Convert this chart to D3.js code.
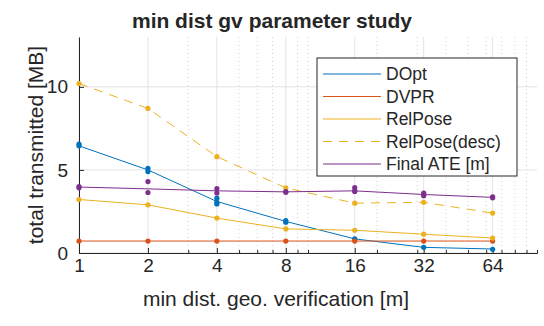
<!DOCTYPE html>
<html>
<head>
<meta charset="utf-8">
<script src="https://cdn.jsdelivr.net/npm/d3@7"></script>
<style>
  body { margin: 0; background: #fff; }
  svg text { font-family: "Liberation Sans", Arial, Helvetica, sans-serif; fill: #262626; }
  .axis path, .axis line { stroke: #262626; }
  .axis text { font-size: 19px; }
</style>
</head>
<body>
<div class="chart"></div>
<script>
// chart data
var xValues = [1, 2, 4, 8, 16, 32, 64];
var xTickLabels = ["1", "2", "4", "8", "16", "32", "64"];
var xMinorTicks = [3, 5, 6, 7, 9, 10, 20, 30, 40, 50, 60, 70, 80, 90];
var yTicks = [0, 5, 10];
var seriesNames = ["DOpt", "DVPR", "RelPose", "RelPose(desc)", "Final ATE [m]"];

var dOptLine = [6.45, 5.0, 3.1, 1.9, 0.85, 0.34, 0.24];
var dOptRuns = [[6.45, 6.55], [5.1, 4.9], [3.3, 3.05, 2.95], [1.95, 1.85], [0.85], [0.34], [0.22]];
var dvprLine = [0.72, 0.72, 0.72, 0.72, 0.72, 0.72, 0.72];
var dvprRuns = [[0.72], [0.72], [0.72], [0.72], [0.72], [0.72], [0.72]];
var relPoseLine = [3.22, 2.9, 2.1, 1.45, 1.37, 1.13, 0.9];
var relPoseRuns = [[3.22], [2.9], [2.1], [1.45], [1.37], [1.13], [0.9]];
var relPoseDescLine = [10.2, 8.7, 5.8, 3.92, 3.0, 3.05, 2.4];
var relPoseDescRuns = [[10.2], [8.7], [5.8], [3.92], [3.0], [3.05], [2.4]];
var ateLine = [3.97, 3.86, 3.74, 3.68, 3.74, 3.52, 3.35];
var ateRuns = [[4.0, 3.92], [4.3, 3.64], [3.88, 3.61], [3.7, 3.65], [3.94, 3.75, 3.7], [3.6, 3.5, 3.45], [3.38, 3.32]];

var series = [
  { name: seriesNames[0], line: dOptLine, runs: dOptRuns, color: "#0072BD", dash: null },
  { name: seriesNames[1], line: dvprLine, runs: dvprRuns, color: "#D95319", dash: null },
  { name: seriesNames[2], line: relPoseLine, runs: relPoseRuns, color: "#EDB120", dash: null },
  { name: seriesNames[3], line: relPoseDescLine, runs: relPoseDescRuns, color: "#EDB120", dash: "9,7" },
  { name: seriesNames[4], line: ateLine, runs: ateRuns, color: "#7E2F8E", dash: null }
];

var svgWidth = 544;
var svgHeight = 326;
var margin = { top: 37, right: 7, bottom: 73, left: 79 };
var width = svgWidth - margin.left - margin.right;
var height = svgHeight - margin.top - margin.bottom;

var svg = d3.select(".chart")
    .append("svg")
    .attr("width", svgWidth)
    .attr("height", svgHeight);

var chartGroup = svg.append("g")
    .attr("transform", `translate(${margin.left},${margin.top})`);

var xScale = d3.scaleLog().base(2)
    .domain([1, 100])
    .range([0, width]);

var yScale = d3.scaleLinear()
    .domain([0, 13])
    .range([height, 0]);

// grid lines
chartGroup.selectAll(".minor-grid")
    .data(xMinorTicks)
    .enter()
    .append("line")
    .attr("x1", d => xScale(d)).attr("x2", d => xScale(d))
    .attr("y1", 0).attr("y2", height)
    .attr("stroke", "#c8c8c8")
    .attr("stroke-width", 0.8)
    .attr("stroke-dasharray", "1,3");

chartGroup.selectAll(".major-grid")
    .data(xValues)
    .enter()
    .append("line")
    .attr("x1", d => xScale(d)).attr("x2", d => xScale(d))
    .attr("y1", 0).attr("y2", height)
    .attr("stroke", "#e3e3e3")
    .attr("stroke-width", 1);

chartGroup.selectAll(".y-grid")
    .data(yTicks)
    .enter()
    .append("line")
    .attr("x1", 0).attr("x2", width)
    .attr("y1", d => yScale(d)).attr("y2", d => yScale(d))
    .attr("stroke", "#e3e3e3")
    .attr("stroke-width", 1);

// axes
var bottomAxis = d3.axisBottom(xScale)
    .tickValues(xValues)
    .tickFormat((d, i) => xTickLabels[i])
    .tickSizeInner(-5)
    .tickSizeOuter(0)
    .tickPadding(6);

var minorAxis = d3.axisBottom(xScale)
    .tickValues(xMinorTicks.concat([100]))
    .tickFormat("")
    .tickSizeInner(-3)
    .tickSizeOuter(0);

var leftAxis = d3.axisLeft(yScale)
    .tickValues(yTicks)
    .tickSizeInner(-5)
    .tickSizeOuter(0)
    .tickPadding(11);

chartGroup.append("g")
    .attr("class", "axis")
    .attr("transform", `translate(0, ${height})`)
    .call(minorAxis);

chartGroup.append("g")
    .attr("class", "axis")
    .attr("transform", `translate(0, ${height})`)
    .call(bottomAxis);

chartGroup.append("g")
    .attr("class", "axis")
    .call(leftAxis);

// lines and run markers
var lineGen = d3.line()
    .x((d, i) => xScale(xValues[i]))
    .y(d => yScale(d));

series.forEach(function(s) {
  chartGroup.append("path")
    .datum(s.line)
    .attr("d", lineGen)
    .attr("fill", "none")
    .attr("stroke", s.color)
    .attr("stroke-width", 1)
    .attr("stroke-dasharray", s.dash);

  var pts = [];
  s.runs.forEach(function(vals, i) {
    vals.forEach(v => pts.push({ x: xValues[i], y: v }));
  });
  chartGroup.selectAll(null)
    .data(pts)
    .enter()
    .append("circle")
    .attr("cx", d => xScale(d.x))
    .attr("cy", d => yScale(d.y))
    .attr("r", 2.6)
    .attr("fill", s.color);
});

// legend
var legend = svg.append("g").attr("transform", "translate(317,58)");
legend.append("rect")
    .attr("width", 200).attr("height", 118)
    .attr("fill", "#fff")
    .attr("stroke", "#262626")
    .attr("stroke-width", 1);

series.forEach(function(s, i) {
  var yy = 16 + i * 22.5;
  legend.append("line")
    .attr("x1", 6).attr("x2", 64)
    .attr("y1", yy).attr("y2", yy)
    .attr("stroke", s.color)
    .attr("stroke-width", 1)
    .attr("stroke-dasharray", s.dash);
  legend.append("text")
    .attr("x", 69).attr("y", yy)
    .attr("dy", "0.35em")
    .attr("font-size", "17.5px")
    .text(s.name);
});

// title and axis labels
svg.append("text")
    .attr("x", 272)
    .attr("y", 28)
    .attr("text-anchor", "middle")
    .attr("font-size", "21px")
    .attr("font-weight", "bold")
    .text("min dist gv parameter study");

svg.append("text")
    .attr("x", 276)
    .attr("y", 306)
    .attr("text-anchor", "middle")
    .attr("font-size", "21px")
    .text("min dist. geo. verification [m]");

svg.append("text")
    .attr("transform", "rotate(-90)")
    .attr("x", -(margin.top + height / 2))
    .attr("y", 43)
    .attr("text-anchor", "middle")
    .attr("font-size", "21px")
    .text("total transmitted [MB]");
</script>
</body>
</html>
